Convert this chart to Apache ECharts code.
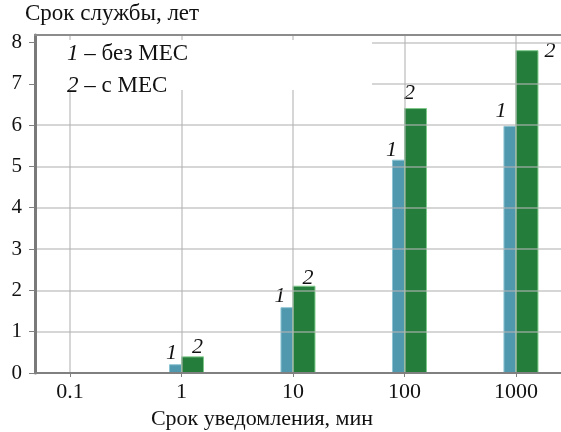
<!DOCTYPE html>
<html>
<head>
<meta charset="utf-8">
<script src="https://cdn.jsdelivr.net/npm/echarts@6/dist/echarts.min.js"></script>
<style>
  html, body { margin: 0; padding: 0; background: #fff; }
  #main { width: 561px; height: 432px; }
</style>
</head>
<body>
<div id="main"></div>
<script>
// данные
var notifyTimes = [0.1, 1, 10, 100, 1000];          // срок уведомления, мин
var lifeNoMes = [0, 0.2, 1.58, 5.15, 5.97];         // 1 – без МЕС
var lifeMes = [0, 0.39, 2.1, 6.4, 7.8];             // 2 – с МЕС
var yTicks = [0, 1, 2, 3, 4, 5, 6, 7, 8];

var FONT = 'Liberation Serif';

// подписи "1"/"2" над столбцами: сдвиг от угла столбца (только оформление)
var nudge1 = [[0, 0], [2, -12], [-1, -11], [-1, -10], [-3, -15]];
var nudge2 = [[0, 0], [5, -10], [4, -8], [-6, -15], [12, 1]];

var chart = echarts.init(document.getElementById('main'));

function barSeries(name, values, color, border, leftSide, barW, mark, nudge) {
    return {
        type: 'custom',
        name: name,
        z: 2,
        encode: { x: 0, y: 1 },
        data: values.map(function (v, i) {
            return [Math.log10(notifyTimes[i]), v];
        }),
        renderItem: function (params, api) {
            var v = api.value(1);
            if (!(v > 0)) return null;
            var top = api.coord([api.value(0), v]);
            var base = api.coord([api.value(0), 0]);
            var x0 = leftSide ? base[0] - barW : base[0];
            var n = nudge[params.dataIndex];
            var tx;
            if (leftSide) {
                tx = x0 + n[0];
            } else if (params.dataIndex === values.length - 1) {
                tx = x0 + barW + n[0];
            } else {
                tx = x0 + barW / 2 + n[0];
            }
            return {
                type: 'group',
                children: [{
                    type: 'rect',
                    shape: { x: x0, y: top[1], width: barW, height: base[1] - top[1] },
                    style: { fill: color, stroke: border, lineWidth: 1 }
                }, {
                    type: 'text',
                    x: tx,
                    y: top[1] + n[1],
                    style: {
                        text: mark,
                        fontFamily: FONT,
                        fontSize: 22,
                        fontStyle: 'italic',
                        fill: '#111',
                        align: 'center',
                        verticalAlign: 'middle'
                    }
                }]
            };
        }
    };
}

var option = {
    animation: false,
    backgroundColor: '#fff',
    textStyle: { fontFamily: FONT },
    title: {
        text: 'Срок службы, лет',
        left: 25,
        top: 2,
        padding: 0,
        textStyle: { fontFamily: FONT, fontSize: 23, fontWeight: 'normal', color: '#111' }
    },
    grid: { left: 35, right: 0, top: 35, bottom: 59, outerBoundsMode: 'none' },
    xAxis: [{
        type: 'value',
        min: -1.314,
        max: 3.404,
        z: 5,
        name: 'Срок уведомления, мин',
        nameLocation: 'middle',
        nameGap: 31,
        nameTextStyle: { fontFamily: FONT, fontSize: 22, color: '#111', padding: [0, 72, 0, 0] },
        axisLine: { show: true, onZero: false, lineStyle: { color: '#808080', width: 2 } },
        axisTick: {
            show: true, length: 4, customValues: [-1, 0, 1, 2, 3],
            lineStyle: { color: '#808080', width: 1 }
        },
        axisLabel: {
            customValues: [-1, 0, 1, 2, 3],
            margin: 8,
            fontFamily: FONT, fontSize: 22, color: '#111',
            formatter: function (v) { return String(notifyTimes[Math.round(v) + 1]); }
        },
        splitLine: { show: true, lineStyle: { color: 'rgba(180,180,180,0.55)', width: 2 } }
    }, {
        // верхняя рамка поля графика
        type: 'value',
        position: 'top',
        min: -1.314,
        max: 3.404,
        z: 5,
        axisLine: { show: true, onZero: false, lineStyle: { color: '#8c8c8c', width: 2 } },
        axisTick: { show: false },
        axisLabel: { show: false },
        splitLine: { show: false }
    }],
    yAxis: {
        type: 'value',
        min: 0,
        max: 8.18,
        z: 5,
        axisLine: { show: true, onZero: false, lineStyle: { color: '#7a7a7a', width: 3 } },
        axisTick: {
            show: true, length: 6, customValues: yTicks,
            lineStyle: { color: '#808080', width: 1 }
        },
        axisLabel: {
            customValues: yTicks,
            margin: 13,
            fontFamily: FONT, fontSize: 21, color: '#111'
        },
        splitLine: { show: true, lineStyle: { color: 'rgba(180,180,180,0.55)', width: 2 } }
    },
    graphic: [{
        type: 'rect',
        z: 100,
        shape: { x: 37, y: 40, width: 335, height: 50 },
        style: { fill: '#fff' }
    }, {
        type: 'text',
        z: 101,
        x: 67,
        y: 54,
        style: {
            text: '{i|1} – без МЕС',
            fontFamily: FONT,
            fontSize: 23,
            fill: '#111',
            verticalAlign: 'middle',
            rich: { i: { fontStyle: 'italic', fontFamily: FONT, fontSize: 23, fill: '#111' } }
        }
    }, {
        type: 'text',
        z: 101,
        x: 67,
        y: 86,
        style: {
            text: '{i|2} – с МЕС',
            fontFamily: FONT,
            fontSize: 23,
            fill: '#111',
            verticalAlign: 'middle',
            rich: { i: { fontStyle: 'italic', fontFamily: FONT, fontSize: 23, fill: '#111' } }
        }
    }],
    series: [
        barSeries('1 – без МЕС', lifeNoMes, '#4f98ae', '#8cc3d2', true, 12, '1', nudge1),
        barSeries('2 – с МЕС', lifeMes, '#257d3b', '#7cc889', false, 22, '2', nudge2)
    ]
};

chart.setOption(option);
</script>
</body>
</html>
